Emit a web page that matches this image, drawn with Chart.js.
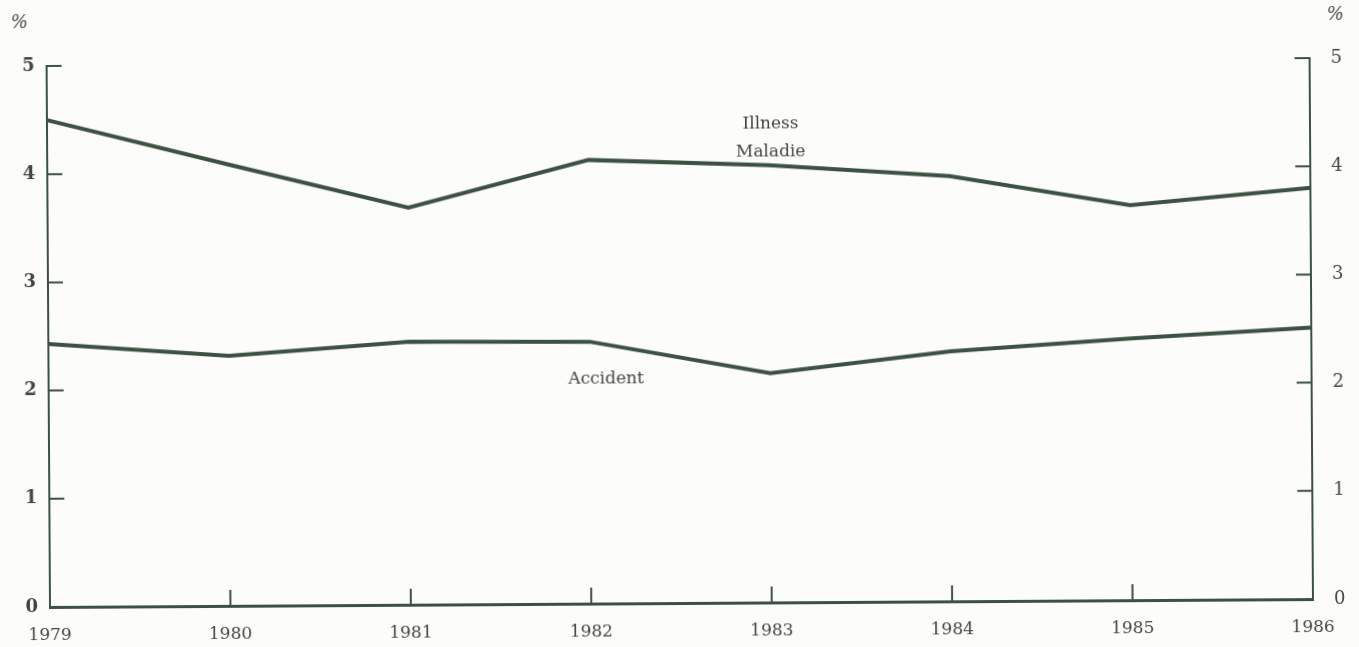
<!DOCTYPE html>
<html lang="en">
<head>
   <meta charset="UTF-8">
   <title>Illness / Accident</title>
   <script src="https://cdn.jsdelivr.net/npm/chart.js@4.4.1/dist/chart.umd.min.js"></script>
   <style>
      html, body { margin: 0; padding: 0; background: #fcfcfa; }
      #wrap { width: 1359px; height: 647px; position: relative; overflow: hidden; }
      /* the scan is slightly tilted: right side sits higher */
      #chartSick { transform: rotate(-0.36deg); transform-origin: 48px 607px; }
   </style>
</head>
<body>
   <div id="wrap">
      <canvas id="chartSick" width="1359" height="647"></canvas>
   </div>
   <script>
      // data
      var years = ['1979', '1980', '1981', '1982', '1983', '1984', '1985', '1986'];
      var illness = [4.50, 4.08, 3.67, 4.10, 4.04, 3.93, 3.65, 3.80];
      var accident = [2.43, 2.31, 2.43, 2.42, 2.12, 2.31, 2.42, 2.51];
      var yTicks = [0, 1, 2, 3, 4, 5];

      var ink = '#3d5143';
      var txt = '#454545';
      var serif = '"DejaVu Serif", "Liberation Serif", serif';

      // inward tick marks, % signs and line names
      var decor = {
         id: 'decor',
         afterDraw: function (chart) {
            var c = chart.ctx;
            var x = chart.scales.x, yl = chart.scales.y, yr = chart.scales.y2;
            c.save();
            c.strokeStyle = ink;
            c.lineWidth = 2;
            yTicks.forEach(function (v) {
               if (v === 0) return;
               var py = yl.getPixelForValue(v);
               c.beginPath();
               c.moveTo(yl.right, py); c.lineTo(yl.right + 15, py);
               c.moveTo(yr.left, py); c.lineTo(yr.left - 15, py);
               c.stroke();
            });
            years.forEach(function (y, i) {
               if (i === 0 || i === years.length - 1) return;
               var px = x.getPixelForValue(i);
               c.beginPath();
               c.moveTo(px, x.top); c.lineTo(px, x.top - 16);
               c.stroke();
            });
            c.fillStyle = txt;
            c.font = 'italic 18px ' + serif;
            c.textAlign = 'center';
            c.textBaseline = 'middle';
            c.fillText('%', yl.right - 27, yl.top - 43);
            c.fillText('%', yr.left + 26, yr.top - 43);
            c.font = '17px ' + serif;
            [['Illness', 4.01, 4.42], ['Maladie', 4.01, 4.16], ['Accident', 3.09, 2.07]].forEach(function (t) {
               c.fillText(t[0], x.getPixelForValue(t[1]), yl.getPixelForValue(t[2]));
            });
            c.restore();
         }
      };

      var ctx = document.getElementById('chartSick').getContext('2d');
      var chartSick = new Chart(ctx, {
         type: 'line',
         plugins: [decor],
         data: {
            labels: years,
            datasets: [{
               label: 'Illness / Maladie',
               data: illness,
               borderColor: ink,
               borderWidth: 4,
               pointRadius: 0,
               tension: 0,
               yAxisID: 'y'
            }, {
               label: 'Accident',
               data: accident,
               borderColor: ink,
               borderWidth: 4,
               pointRadius: 0,
               tension: 0,
               yAxisID: 'y'
            }]
         },
         options: {
            responsive: false,
            animation: false,
            devicePixelRatio: 1,
            layout: { padding: { top: 66, left: 0, right: 0, bottom: 0 } },
            plugins: {
               legend: { display: false },
               tooltip: { enabled: false }
            },
            scales: {
               x: {
                  offset: false,
                  grid: { display: false, drawTicks: false },
                  border: { display: true, color: ink, width: 3 },
                  ticks: { padding: 18, color: txt, font: { family: serif, size: 17 }, maxRotation: 0 },
                  afterFit: function (s) { s.height = 40; }
               },
               y: {
                  position: 'left',
                  min: 0, max: 5,
                  grid: { display: false, drawTicks: false },
                  border: { display: true, color: ink, width: 2 },
                  ticks: { stepSize: 1, padding: 12, color: txt, font: { family: serif, size: 18, weight: 'bold' } },
                  afterFit: function (s) { s.width = 50; }
               },
               y2: {
                  position: 'right',
                  min: 0, max: 5,
                  grid: { display: false, drawTicks: false },
                  border: { display: true, color: ink, width: 2 },
                  ticks: { stepSize: 1, padding: 21, color: txt, font: { family: serif, size: 18 } },
                  afterFit: function (s) { s.width = 46; }
               }
            }
         }
      });
   </script>
</body>
</html>
